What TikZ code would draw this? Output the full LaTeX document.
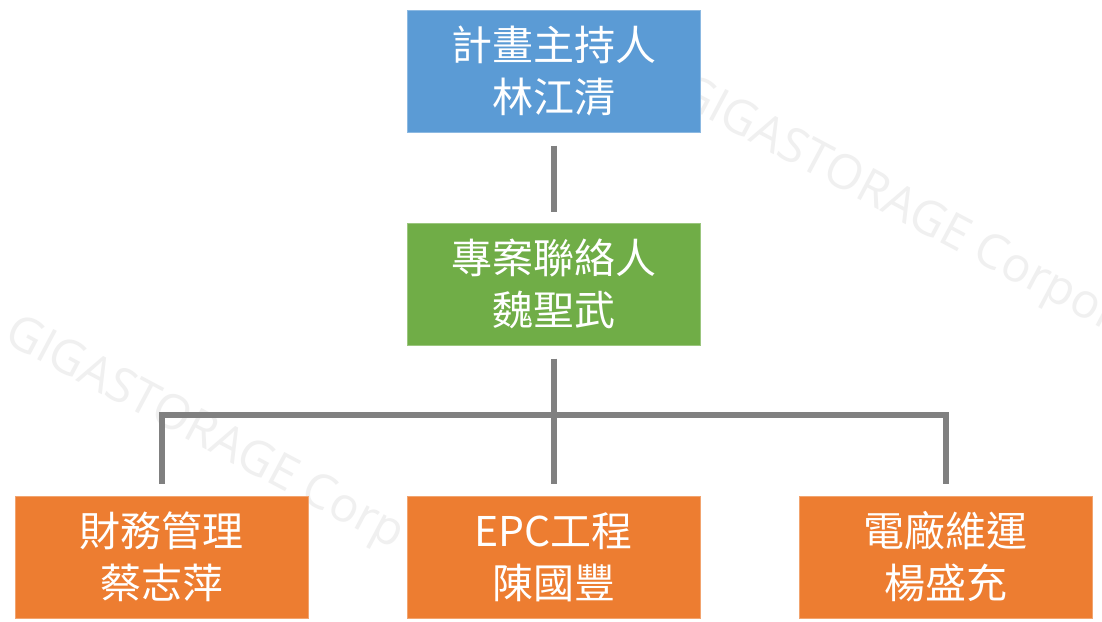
\documentclass[tikz,border=0pt]{standalone}
\usepackage{fontspec}
\setmainfont{Open Sans}
\newfontfamily\cjk{Noto Sans CJK TC}
\definecolor{bluebox}{HTML}{5B9BD5}
\definecolor{greenbox}{HTML}{70AD47}
\definecolor{orangebox}{HTML}{ED7D31}
\definecolor{linegray}{HTML}{808080}
\definecolor{wmgray}{HTML}{F0F0F0}
\begin{document}
\begin{tikzpicture}[x=1pt,y=-1pt,
  box/.style={minimum width=293pt, minimum height=122pt, inner sep=0pt, text=white,
    font=\cjk\fontsize{41}{52}\selectfont, align=center, line width=1pt},
  conn/.style={draw=linegray, line width=6pt},
  wm/.style={rotate=-28, anchor=base west, inner sep=0pt, text=wmgray,
    font=\fontsize{48}{48}\selectfont}]
\useasboundingbox (0,0) rectangle (1102,621);
\fill[white] (0,0) rectangle (1102,621);
\begin{scope}
\clip (0,0) rectangle (1102,621);
\node[wm] (wm1) at (674,101) {GIGASTORAGE Corpor};
\node[wm] (wm2) at (2,341) {GIGASTORAGE Corp};
\end{scope}
\node[box, fill=bluebox, draw=bluebox!70!white] (pi) at (553.5,71) {計畫主持人\\林江清};
\node[box, fill=greenbox, draw=greenbox!70!white] (pc) at (553.5,284) {專案聯絡人\\魏聖武};
\node[box, fill=orangebox, draw=orangebox!70!white] (c1) at (161.5,557) {財務管理\\蔡志萍};
\node[box, fill=orangebox, draw=orangebox!70!white] (c2) at (553.5,557) {EPC工程\\陳國豐};
\node[box, fill=orangebox, draw=orangebox!70!white] (c3) at (945.5,557) {電廠維運\\楊盛充};
\coordinate (bar) at (553.5,414.5);
\draw[conn, shorten <=13pt, shorten >=11pt] (pi.south) -- (pc.north);
\draw[conn, shorten <=13pt, shorten >=12pt] (pc.south) -- (c2.north);
\draw[conn, shorten <=12pt, shorten >=12pt] (c1.north) -- (c1.north |- bar) -- (c3.north |- bar) -- (c3.north);
\end{tikzpicture}
\end{document}
